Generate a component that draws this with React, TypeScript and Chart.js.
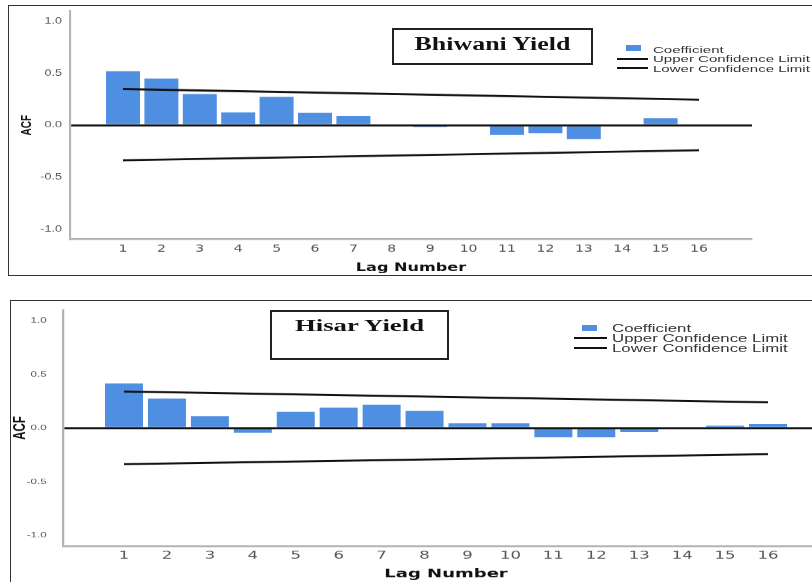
import React, { useEffect, useRef } from "react";
import { Chart, registerables } from "chart.js";

Chart.register(...registerables);

// ---------- data ----------
const LAGS = [1, 2, 3, 4, 5, 6, 7, 8, 9, 10, 11, 12, 13, 14, 15, 16];
const ACF_TICKS = [-1, -0.5, 0, 0.5, 1];
const LIMIT_LAGS = [1, 16];

const BHIWANI_ACF = [0.52, 0.45, 0.3, 0.123, 0.273, 0.119, 0.09, 0, -0.019, 0, -0.094, -0.077, -0.135, 0, 0.068, 0];
const BHIWANI_UCL = [0.348, 0.246];
const BHIWANI_LCL = [-0.338, -0.242];

const HISAR_ACF = [0.415, 0.275, 0.11, -0.044, 0.15, 0.19, 0.218, 0.16, 0.044, 0.044, -0.087, -0.087, -0.037, 0, 0.022, 0.037];
const HISAR_UCL = [0.34, 0.24];
const HISAR_LCL = [-0.337, -0.244];

const SERIES_LABELS = ["Coefficient", "Upper Confidence Limit", "Lower Confidence Limit"];
const X_TITLE = "Lag Number";
const Y_TITLE = "ACF";

const BAR_COLOR = "#4f8fe2";
const AXIS_COLOR = "#b3b3b3";
const TICK_COLOR = "#555555";

type Geo = {
  sx: number; w: number; h: number; left: number; top: number;
  padTop: number; padRight: number; xH: number; yW: number;
  xMin: number; xMax: number;
  xTickPad: number; xTickSize: number; xTitleSize: number; xTitlePad: number;
  yTickPad: number; yTickSize: number; yTitleSize: number; yTitlePad: number;
};

const TOP_GEO: Geo = {
  sx: 1.4, w: 580, h: 271, left: 0, top: 5,
  padTop: 6, padRight: 42.86, xH: 37, yW: 50,
  xMin: -0.38, xMax: 17.38,
  xTickPad: 4, xTickSize: 10, xTitleSize: 11.5, xTitlePad: 1.6,
  yTickPad: 5.7, yTickSize: 9, yTitleSize: 10, yTitlePad: 13.5,
};

const BOTTOM_GEO: Geo = {
  sx: 1.5, w: 560, h: 290, left: 0, top: 300,
  padTop: 10, padRight: 7.3, xH: 44, yW: 42,
  xMin: -0.421, xMax: 17.421,
  xTickPad: 3.4, xTickSize: 11, xTitleSize: 12, xTitlePad: 8.3,
  yTickPad: 10.9, yTickSize: 7.7, yTitleSize: 11.5, yTitlePad: 6.4,
};

function makeConfig(acf: number[], ucl: number[], lcl: number[], g: Geo): any {
  return {
    type: "bar",
    data: {
      datasets: [
        {
          type: "bar",
          label: SERIES_LABELS[0],
          data: LAGS.map((x, i) => ({ x, y: acf[i] })),
          backgroundColor: BAR_COLOR,
          borderWidth: 0,
          categoryPercentage: 1,
          barPercentage: 0.885,
          order: 2,
        },
        {
          type: "line",
          label: SERIES_LABELS[1],
          data: LIMIT_LAGS.map((x, i) => ({ x, y: ucl[i] })),
          borderColor: "#111111",
          borderWidth: 2,
          pointRadius: 0,
          fill: false,
          order: 1,
        },
        {
          type: "line",
          label: SERIES_LABELS[2],
          data: LIMIT_LAGS.map((x, i) => ({ x, y: lcl[i] })),
          borderColor: "#111111",
          borderWidth: 2,
          pointRadius: 0,
          fill: false,
          order: 1,
        },
      ],
    },
    options: {
      animation: false,
      responsive: false,
      devicePixelRatio: g.sx,
      events: [],
      layout: { padding: { left: 0, top: g.padTop, right: g.padRight, bottom: 0 } },
      plugins: { legend: { display: false }, tooltip: { enabled: false }, title: { display: false } },
      scales: {
        x: {
          type: "linear",
          bounds: "data",
          offset: false,
          min: g.xMin,
          max: g.xMax,
          afterBuildTicks: (s: any) => {
            s.ticks = LAGS.map((v) => ({ value: v }));
          },
          afterFit: (s: any) => {
            s.height = g.xH;
            s.paddingLeft = 0;
            s.paddingRight = 0;
          },
          grid: { display: false, drawTicks: false, offset: false },
          border: { display: true, color: AXIS_COLOR, width: 2 },
          ticks: {
            autoSkip: false,
            maxRotation: 0,
            padding: g.xTickPad,
            color: TICK_COLOR,
            font: { family: "'DejaVu Sans', sans-serif", size: g.xTickSize },
            callback: (v: any) => String(v),
          },
          title: {
            display: true,
            text: X_TITLE,
            color: "#111111",
            font: { family: "'DejaVu Sans', sans-serif", weight: "bold", size: g.xTitleSize },
            padding: { top: 0, bottom: g.xTitlePad },
          },
        },
        y: {
          type: "linear",
          bounds: "data",
          min: -1.1,
          max: 1.1,
          afterBuildTicks: (s: any) => {
            s.ticks = ACF_TICKS.map((v) => ({ value: v }));
          },
          afterFit: (s: any) => {
            s.width = g.yW;
            s.paddingTop = 0;
            s.paddingBottom = 0;
          },
          grid: {
            drawTicks: false,
            z: 1,
            lineWidth: 2,
            color: (c: any) => (c.tick && c.tick.value === 0 ? "#111111" : "rgba(0,0,0,0)"),
          },
          border: { display: true, color: AXIS_COLOR, width: 1.5, z: 1 },
          ticks: {
            padding: g.yTickPad,
            color: TICK_COLOR,
            font: { family: "'Liberation Sans', Arial, sans-serif", size: g.yTickSize },
            callback: (v: any) => Number(v).toFixed(1),
          },
          title: {
            display: true,
            text: Y_TITLE,
            color: "#111111",
            font: { family: "'Liberation Sans', Arial, sans-serif", weight: "bold", size: g.yTitleSize },
            padding: { top: g.yTitlePad, bottom: 0 },
          },
        },
      },
    },
  };
}

function AcfChart({ acf, ucl, lcl, g }: { acf: number[]; ucl: number[]; lcl: number[]; g: Geo }) {
  const ref = useRef<HTMLCanvasElement>(null);
  useEffect(() => {
    const chart = new Chart(ref.current as HTMLCanvasElement, makeConfig(acf, ucl, lcl, g));
    return () => chart.destroy();
  }, []);
  return (
    <canvas
      ref={ref}
      width={g.w}
      height={g.h}
      style={{ position: "absolute", left: g.left, top: g.top, width: g.w * g.sx + "px", height: g.h + "px" }}
    />
  );
}

type LegendGeo = {
  sqLeft: number; sqTop: number; sqW: number; sqH: number;
  lineLeft: number; lineW: number; lineTops: number[];
  textLeft: number; textCenters: number[]; fontSize: number; scale: number;
};

const TOP_LEGEND: LegendGeo = {
  sqLeft: 626, sqTop: 45, sqW: 15, sqH: 6,
  lineLeft: 617, lineW: 31, lineTops: [57.5, 67],
  textLeft: 653, textCenters: [49, 58.5, 68], fontSize: 9.5, scale: 1.58,
};

const BOTTOM_LEGEND: LegendGeo = {
  sqLeft: 582, sqTop: 324.5, sqW: 15, sqH: 6,
  lineLeft: 574, lineW: 33, lineTops: [337.3, 347.3],
  textLeft: 612, textCenters: [329, 338.3, 348.3], fontSize: 10, scale: 1.68,
};

function Legend({ l }: { l: LegendGeo }) {
  return (
    <>
      <div style={{ position: "absolute", left: l.sqLeft, top: l.sqTop, width: l.sqW, height: l.sqH, background: BAR_COLOR }} />
      {l.lineTops.map((t, i) => (
        <div key={"ln" + i} style={{ position: "absolute", left: l.lineLeft, top: t, width: l.lineW, height: 2, background: "#111" }} />
      ))}
      {SERIES_LABELS.map((s, i) => (
        <div
          key={"tx" + i}
          style={{
            position: "absolute",
            left: l.textLeft,
            top: l.textCenters[i] - 0.47 * l.fontSize,
            fontFamily: "'Liberation Sans', Arial, sans-serif",
            fontSize: l.fontSize,
            lineHeight: l.fontSize + "px",
            whiteSpace: "nowrap",
            color: "#333",
            transform: `scaleX(${l.scale})`,
            transformOrigin: "left center",
          }}
        >
          {s}
        </div>
      ))}
    </>
  );
}

function TitleBox({ text, left, top, width, height, textTop, fontSize, scale }: {
  text: string; left: number; top: number; width: number; height: number; textTop: number; fontSize: number; scale: number;
}) {
  return (
    <>
      <div
        style={{
          position: "absolute", left, top, width, height, boxSizing: "border-box",
          border: "2px solid #222", background: "#fff",
        }}
      />
      <div
        style={{
          position: "absolute", left, top: textTop, width, textAlign: "center",
          fontFamily: "'Liberation Serif', 'Times New Roman', serif", fontWeight: "bold",
          fontSize, lineHeight: fontSize + "px", whiteSpace: "nowrap", color: "#111",
          transform: `scaleX(${scale})`, transformOrigin: "center center",
        }}
      >
        {text}
      </div>
    </>
  );
}

export default function App() {
  return (
    <div style={{ position: "absolute", left: 0, top: 0, width: 812, height: 582, overflow: "hidden", background: "#fff" }}>
      <div style={{ position: "absolute", left: 8, top: 5, width: 900, height: 271, boxSizing: "border-box", border: "1.5px solid #333" }} />
      <div style={{ position: "absolute", left: 10, top: 300, width: 900, height: 400, boxSizing: "border-box", border: "1.5px solid #333" }} />
      <AcfChart acf={BHIWANI_ACF} ucl={BHIWANI_UCL} lcl={BHIWANI_LCL} g={TOP_GEO} />
      <AcfChart acf={HISAR_ACF} ucl={HISAR_UCL} lcl={HISAR_LCL} g={BOTTOM_GEO} />
      <TitleBox text="Bhiwani Yield" left={392} top={28} width={201} height={37} textTop={35.4} fontSize={18} scale={1.44} />
      <TitleBox text="Hisar Yield" left={270} top={310} width={179} height={50} textTop={317} fontSize={17.5} scale={1.53} />
      <Legend l={TOP_LEGEND} />
      <Legend l={BOTTOM_LEGEND} />
    </div>
  );
}
